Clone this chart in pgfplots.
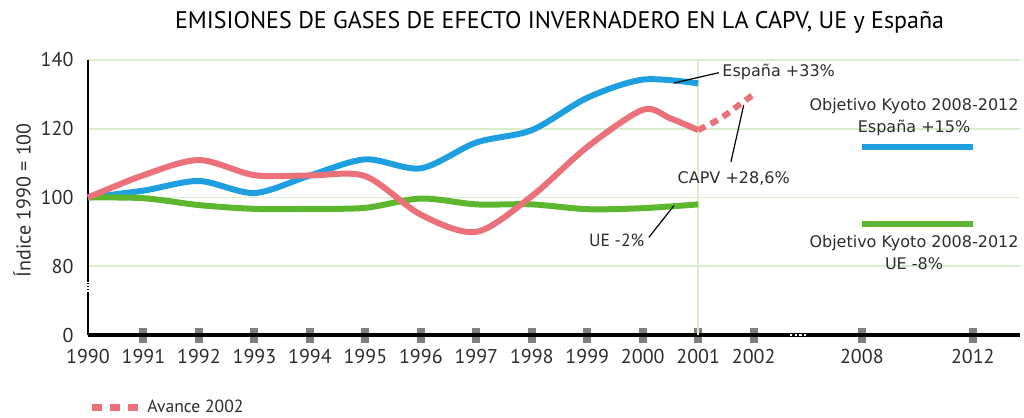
\documentclass[border=0pt]{standalone}
\usepackage{fontspec}
\setmainfont{PT Sans}
\newfontfamily\annfont{DejaVu Sans}
\usepackage{pgfplots}
\pgfplotsset{compat=1.18}

\definecolor{esp}{RGB}{30,159,224}
\definecolor{capv}{RGB}{234,112,122}
\definecolor{ue}{RGB}{92,182,46}
\definecolor{gridc}{RGB}{218,238,205}
\definecolor{tickc}{RGB}{128,128,128}
\definecolor{txt}{RGB}{45,45,45}

\begin{document}
\begin{tikzpicture}
\begin{axis}[
    scale only axis,
    width=466pt, height=137.5pt,
    xmin=1990, xmax=2006.8,
    ymin=60, ymax=140,
    clip=false,
    axis x line=bottom, axis y line=left,
    axis line style={-, black, line width=1.2pt},
    x axis line style={line width=1.8pt},
    xtick={1991,1992,1993,1994,1995,1996,1997,1998,1999,2000,2001,2002,2003.95,2005.95},
    xticklabels={1991,1992,1993,1994,1995,1996,1997,1998,1999,2000,2001,2002,2008,2012},
    extra x ticks={1990}, extra x tick labels={1990},
    extra x tick style={xtick style={draw=none}},
    tick align=center,
    major tick length=7.5pt,
    xtick style={draw=tickc, line width=4pt},
    ytick={60,80,100,120,140},
    yticklabels={0,80,100,120,140},
    ytick style={draw=none},
    ymajorgrids,
    grid style={gridc, line width=0.8pt},
    tick label style={font=\fontsize{10}{11}\selectfont, text=txt},
    legend style={at={(rel axis cs:0,-0.265)}, anchor=west, draw=none, fill=none,
        inner sep=0pt, font=\fontsize{8.8}{9}\selectfont, text=txt},
    legend image code/.code={\draw[capv, line width=3.5pt, dash pattern=on 5pt off 4pt] (-2pt,0pt) -- (21pt,0pt);},
]
\draw[gridc, line width=0.8pt] (axis cs:2001,60) -- (axis cs:2001,140);

% Espana
\addplot[esp, line width=3pt, smooth, forget plot] coordinates {
 (1990,100) (1991,102) (1992,104.8) (1993,101.3) (1994,106.4) (1995,111.1)
 (1996,108.5) (1997,116) (1998,119.6) (1999,129) (2000,134.3) (2001,133.2)};
% UE
\addplot[ue, line width=3pt, smooth, forget plot] coordinates {
 (1990,100) (1991,99.8) (1992,97.8) (1993,96.7) (1994,96.7) (1995,97)
 (1996,99.7) (1997,98) (1998,98) (1999,96.6) (2000,96.9) (2001,98)};
% CAPV
\addplot[capv, line width=3pt, smooth, forget plot] coordinates {
 (1990,100) (1991,106.5) (1992,110.9) (1993,106.5) (1994,106.4) (1995,106.2)
 (1996,95) (1997,90) (1998,100.4) (1999,114.7) (2000,125.5) (2000.5,123) (2001,119.6)};
% Avance 2002
\addplot[capv, line width=3pt, dash pattern=on 4pt off 3pt, smooth] coordinates {
 (2001,119.6) (2001.4,123) (2001.7,126.5) (2002,130)};
\addlegendentry{\hspace{1pt}Avance 2002}
% Objetivos Kyoto
\addplot[esp, line width=3pt, forget plot] coordinates {(2003.95,114.7) (2005.95,114.7)};
\addplot[ue, line width=3pt, forget plot] coordinates {(2003.95,92.2) (2005.95,92.2)};

% leaders and notes
\draw[black, line width=0.6pt] (axis cs:2000.56,133.3) -- (axis cs:2001.37,136.3);
\node[anchor=west, inner sep=0pt, font=\annfont\fontsize{8}{9}\selectfont, text=txt]
  at (axis cs:2001.43,136.5) {España +33\%};
\draw[black, line width=0.6pt] (axis cs:2001.59,110.4) -- (axis cs:2001.82,126.9);
\node[font=\annfont\fontsize{8}{9}\selectfont, text=txt]
  at (axis cs:2001.64,105.6) {CAPV +28,6\%};
\draw[black, line width=0.6pt] (axis cs:2000.11,88.4) -- (axis cs:2000.56,97.6);
\node[font=\fontsize{8.8}{9}\selectfont, text=txt]
  at (axis cs:1999.53,87.6) {UE -2\%};
\node[align=center, font=\annfont\fontsize{8}{11}\selectfont, text=txt]
  at (axis cs:2004.89,123.3) {Objetivo Kyoto 2008-2012\\España +15\%};
\node[align=center, font=\annfont\fontsize{8}{11}\selectfont, text=txt]
  at (axis cs:2004.89,83.9) {Objetivo Kyoto 2008-2012\\UE -8\%};

% title and y label
\node[font=\fontsize{12}{13}\selectfont, text=black]
  at ([yshift=19pt]rel axis cs:0.506,1) {EMISIONES DE GASES DE EFECTO INVERNADERO EN LA CAPV, UE y España};
\node[rotate=90, font=\fontsize{10}{11}\selectfont, text=txt]
  at ([xshift=-33pt]rel axis cs:0,0.49) {Índice 1990 = 100};

\coordinate (yb1) at (axis cs:1990,72.5);
\coordinate (yb2) at (axis cs:1990,75.5);
\coordinate (xb1) at (axis cs:2002.65,60);
\coordinate (xb2) at (axis cs:2002.95,60);
\end{axis}
% axis breaks
\draw[white, line width=1.6pt, dash pattern=on 0.8pt off 0.8pt] (yb1) -- (yb2);
\draw[white, line width=0.8pt, dash pattern=on 1.2pt off 1.2pt] (xb1) -- (xb2);
\pgfresetboundingbox
\path ([xshift=-44pt,yshift=-41.5pt]current axis.south west) rectangle ([xshift=2pt,yshift=30pt]current axis.north east);
\end{tikzpicture}
\end{document}
